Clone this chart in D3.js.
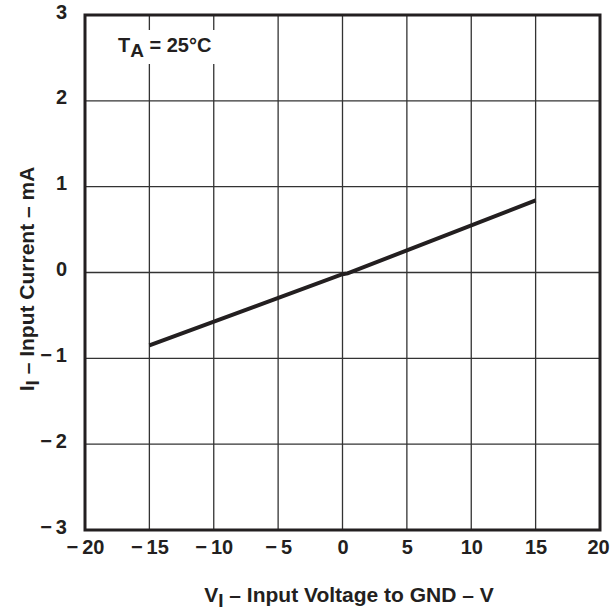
<!DOCTYPE html>
<html><head><meta charset="utf-8">
<script src="https://cdn.jsdelivr.net/npm/d3@7"></script>
<style>body{margin:0;background:#fff;} svg{display:block;font-family:"Liberation Sans",Arial,sans-serif;font-weight:bold;}</style>
</head><body>
<svg id="c" width="610" height="613"></svg>
<script>
const xTicks = [-20, -15, -10, -5, 0, 5, 10, 15, 20];
const yTicks = [-3, -2, -1, 0, 1, 2, 3];
const voltage = [-15, 0, 0.4, 15];
const current = [-0.85, -0.02, -0.01, 0.84];

const svg = d3.select("#c");
const L = 85, R = 600, T = 15, B = 530;
const x = d3.scaleLinear().domain([-20, 20]).range([L, R]);
const y = d3.scaleLinear().domain([-3, 3]).range([B, T]);
const fmt = d => d < 0 ? "\u2212\u2009" + Math.abs(d) : String(d);
const ink = "#231f20";

// grid
svg.append("g").selectAll("line").data(xTicks.slice(1, -1)).join("line")
  .attr("x1", d => x(d)).attr("x2", d => x(d)).attr("y1", T).attr("y2", B)
  .attr("stroke", "#333").attr("stroke-width", 1.3);
svg.append("g").selectAll("line").data(yTicks.slice(1, -1)).join("line")
  .attr("y1", d => y(d)).attr("y2", d => y(d)).attr("x1", L).attr("x2", R)
  .attr("stroke", "#333").attr("stroke-width", 1.3);

// white box behind annotation
svg.append("rect").attr("x", 112).attr("y", 30).attr("width", 112).attr("height", 34).attr("fill", "#fff");
const ann = svg.append("text").attr("x", 118).attr("y", 52).attr("font-size", 20).attr("fill", ink);
ann.append("tspan").text("T");
ann.append("tspan").attr("dy", 5).attr("font-size", 19).text("A");
ann.append("tspan").attr("dy", -5).text(" = 25\u00B0C");

// data line
svg.append("path").datum(voltage.map((v, i) => [v, current[i]]))
  .attr("d", d3.line().x(d => x(d[0])).y(d => y(d[1])))
  .attr("fill", "none").attr("stroke", ink).attr("stroke-width", 4);

// frame
svg.append("rect").attr("x", L).attr("y", T).attr("width", R - L).attr("height", B - T)
  .attr("fill", "none").attr("stroke", ink).attr("stroke-width", 3);

// axes labels via d3 axes
const xa = svg.append("g").attr("transform", `translate(0,${B})`)
  .call(d3.axisBottom(x).tickValues(xTicks).tickFormat(fmt).tickSize(0).tickPadding(10));
xa.select(".domain").remove();
xa.selectAll("text").attr("font-size", 20).attr("font-family", "Liberation Sans, Arial, sans-serif")
  .attr("font-weight", "bold").attr("fill", ink);
xa.selectAll(".tick").filter(d => d === 20).select("text").attr("dx", -2);

const ya = svg.append("g").attr("transform", `translate(${L},0)`)
  .call(d3.axisLeft(y).tickValues(yTicks).tickFormat(fmt).tickSize(0).tickPadding(18));
ya.select(".domain").remove();
ya.selectAll("text").attr("font-size", 20).attr("font-family", "Liberation Sans, Arial, sans-serif")
  .attr("font-weight", "bold").attr("fill", ink).attr("dy", "0.15em");

// axis titles
const xt = svg.append("text").attr("x", 349).attr("y", 602).attr("text-anchor", "middle")
  .attr("font-size", 21).attr("fill", ink);
xt.append("tspan").text("V");
xt.append("tspan").attr("dy", 5).attr("font-size", 19).text("I");
xt.append("tspan").attr("dy", -5).text(" \u2013 Input Voltage to GND \u2013 V");

const yt = svg.append("text").attr("transform", "translate(34,279) rotate(-90)").attr("text-anchor", "middle")
  .attr("font-size", 21).attr("fill", ink);
yt.append("tspan").text("I");
yt.append("tspan").attr("dy", 5).attr("font-size", 19).text("I");
yt.append("tspan").attr("dy", -5).text(" \u2013 Input Current \u2013 mA");
</script>
</body></html>
